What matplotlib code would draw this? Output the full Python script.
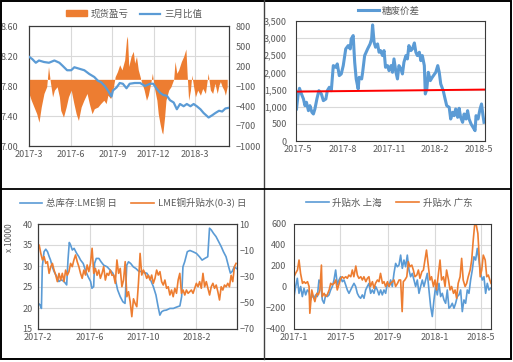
import numpy as np
import pandas as pd
import matplotlib
matplotlib.use('Agg')
import matplotlib.pyplot as plt
import matplotlib.dates as mdates
from matplotlib.lines import Line2D
from matplotlib.patches import Patch, Rectangle

plt.rcParams['font.family'] = ['Noto Sans CJK SC', 'DejaVu Sans']

BLUE = '#5B9BD5'
ORANGE = '#ED7D31'
GREY = '#595959'

# ---- panel 1: 现货盈亏 (right axis) / 三月比值 (left axis), days from 2017-03-01
p1_ratio_days = [0, 7, 15, 22, 33, 44, 56, 67, 74, 84, 93, 100, 111, 122, 133, 144, 152, 159, 167, 174,
                 182, 185, 193, 200, 207, 215, 222, 233, 245, 256, 267, 274, 282, 289, 296, 304, 311, 319,
                 326, 333, 341, 348, 356, 363, 370, 378, 385, 396, 404, 411, 419, 426, 433, 441]
p1_ratio = [8.19, 8.16, 8.11, 8.14, 8.12, 8.11, 8.14, 8.11, 8.07, 8.01, 8.01, 8.05, 8.03, 8.01, 7.96,
            7.92, 7.87, 7.85, 7.80, 7.74, 7.66, 7.74, 7.78, 7.84, 7.83, 7.77, 7.83, 7.84, 7.84, 7.80,
            7.83, 7.83, 7.76, 7.71, 7.68, 7.67, 7.61, 7.58, 7.49, 7.56, 7.53, 7.56, 7.53, 7.56, 7.53,
            7.49, 7.44, 7.38, 7.41, 7.44, 7.47, 7.46, 7.50, 7.51]
p1_pnl_days = [0, 5, 11, 17, 22, 27, 33, 39, 43, 47, 52, 56, 62, 67, 70, 76, 82, 87, 93, 99,
               104, 109, 115, 121, 128, 133, 139, 144, 152, 158, 165, 170, 174, 180, 185, 190, 195, 200, 205, 211,
               215, 217, 220, 225, 230, 233, 237, 241, 248, 254, 259, 263, 269, 272, 276, 282, 285, 289, 293, 295,
               299, 302, 308, 313, 319, 322, 326, 330, 336, 341, 346, 349, 352, 356, 359, 363, 367, 372, 378, 383,
               389, 395, 400, 405, 410, 415, 419, 422, 426, 430, 433, 437]
p1_pnl = [-212, -314, -415, -516, -643, -415, -212, -111, 192, -35, -263, -162, -111, -263, -466, -567, -415, -263, -162, -364,
          -516, -617, -415, -314, -212, -364, -516, -440, -415, -364, -314, -364, -238, -288, -162, 40, 116, 218, 142, 293,
          597, 648, 192, 344, 420, 243, 344, 142, -35, -162, -314, -238, -35, 91, -111, -314, -516, -668, -794, -820,
          -567, -314, -162, -111, 0, 268, 91, 142, 268, 344, 455, 40, -314, -162, 66, -111, -263, -162, -238, -137,
          -212, 91, -162, -212, -61, -212, -86, -35, -111, -162, -238, -111]

# ---- panel 2: 糖废价差, days from 2017-04-28
p2_days = [1, 4, 7, 11, 15, 18, 21, 25, 28, 32, 35, 38, 42, 46, 51, 55, 60, 63, 67, 71,
           75, 80, 83, 87, 91, 95, 100, 105, 109, 111, 115, 118, 121, 125, 127, 132, 134, 138, 144, 149,
           152, 154, 157, 160, 164, 167, 170, 174, 177, 180, 184, 187, 191, 194, 197, 201, 204, 207, 211, 214,
           217, 221, 224, 227, 231, 234, 238, 241, 244, 248, 251, 254, 258, 260, 263, 266, 270, 274, 281, 285,
           288, 291, 296, 299, 303, 308, 311, 315, 318, 321, 325, 328, 331, 335, 338, 342, 345, 348, 352, 356,
           360, 362, 366, 370, 373, 376, 378]
p2_spread = [934, 1323, 1537, 1372, 1226, 1031, 1129, 885, 1031, 837, 788, 934, 1226, 1469, 1372, 1177, 1226, 1469, 1567, 1469,
             2199, 2150, 2248, 1907, 1956, 2199, 2686, 2783, 2686, 2977, 3075, 2296, 1810, 1518, 1858, 1810, 2004, 2491, 2686, 2831,
             2977, 3386, 2880, 2734, 2831, 2588, 2637, 2491, 2637, 2150, 2199, 2053, 2199, 2004, 2394, 2004, 1810, 2199, 2102, 1956,
             2296, 2491, 2394, 2783, 2637, 2686, 2860, 2588, 2491, 2588, 2345, 2491, 2199, 1372, 1518, 2004, 1761, 1858, 2004, 2199,
             2004, 1664, 1469, 1275, 1031, 983, 642, 837, 739, 934, 691, 954, 691, 545, 788, 642, 885, 642, 496, 399,
             302, 739, 642, 934, 1080, 739, 545]
p2_trend = [1440, 1500]

# ---- panel 3: 总库存:LME铜 (x 10000, left) / LME铜升贴水(0-3) (right), days from 2017-02-01
p3_stock_days = [2, 6, 9, 11, 15, 19, 23, 27, 30, 34, 38, 42, 46, 49, 55, 61, 67, 70, 73, 76,
                 80, 84, 90, 95, 99, 105, 110, 116, 122, 125, 129, 131, 135, 141, 146, 152, 160, 167, 173, 179,
                 184, 190, 196, 201, 205, 209, 214, 220, 226, 233, 239, 245, 251, 258, 266, 272, 277, 281, 285, 290,
                 296, 304, 312, 319, 327, 331, 334, 338, 344, 350, 357, 365, 372, 378, 384, 391, 395, 399, 404, 410,
                 416, 422, 427, 433, 439, 443, 447, 452, 457]
p3_stock = [21.1, 20.7, 19.9, 29.8, 33.4, 34.0, 33.4, 32.2, 31.4, 29.8, 28.7, 27.9, 27.1, 26.3, 26.7, 26.3, 25.5, 31.4, 35.6, 35.0,
            33.8, 34.2, 33.0, 32.2, 31.4, 30.6, 29.0, 27.5, 26.3, 24.7, 25.1, 30.6, 31.8, 31.8, 31.0, 30.2, 29.8, 29.0, 28.3, 26.7,
            24.3, 22.7, 21.5, 21.1, 30.2, 31.0, 30.6, 29.8, 29.4, 28.7, 28.7, 28.4, 28.3, 27.1, 25.1, 23.1, 20.3, 18.3, 19.1, 19.4,
            19.5, 19.9, 19.9, 20.2, 20.5, 22.7, 29.8, 31.0, 33.4, 33.7, 33.4, 33.0, 32.2, 31.4, 31.8, 32.2, 39.0, 38.6, 37.8, 37.0,
            35.8, 34.6, 33.4, 32.2, 29.8, 28.3, 28.7, 29.8, 29.4]
p3_spread = [-9.8, -6.0, -12.4, -17.4, -14.9, -20.0, -18.7, -27.6, -22.5, -20.0,
             -25.1, -28.9, -33.9, -27.6, -32.7, -27.6, -33.9, -25.1, -29.1, -26.3,
             -20.0, -22.5, -17.4, -13.6, -18.7, -22.5, -27.6, -31.4, -25.1, -28.9,
             -21.2, -26.3, -20.0, -8.5, -27.6, -23.8, -29.1, -25.1, -31.4, -27.6,
             -22.5, -32.7, -27.6, -29.1, -25.1, -29.1, -28.9, -35.2, -17.4, -27.6,
             -23.8, -37.8, -32.7, -18.7, -45.4, -41.6, -49.2, -60.6, -47.0, -50.5,
             -53.0, -35.2, -12.4, -28.9, -25.1, -27.6, -31.4, -29.1, -32.7, -28.9,
             -35.2, -31.4, -25.1, -28.9, -26.3, -33.9, -36.5, -32.7, -39.0, -37.8,
             -44.1, -40.3, -45.4, -39.0, -42.8, -32.7, -27.6, -42.8, -40.3, -44.1,
             -40.3, -42.8, -41.6, -40.3, -42.8, -39.0, -35.2, -37.8, -33.9, -39.0,
             -27.6, -37.8, -33.9, -39.0, -44.1, -37.8, -35.2, -39.0, -36.5, -41.6,
             -47.9, -37.8, -40.3, -36.5, -37.8, -35.2, -37.8, -29.1, -33.9, -22.5, -20.0]

# ---- panel 4: 升贴水 上海 / 广东, days from 2017-01-01
p4_sh = [-96, 0, 78, -65, 0, -96, -17, -80, -33, -49,
         -128, -80, -112, -80, -96, 62, 30, -128, -160, -80,
         -96, -80, -33, 0, 62, 157, 16, 62, 93, 46,
         62, 16, -33, -65, -33, 0, 30, 0, -65, -96,
         -112, -80, -112, -33, 0, 30, -65, -33, -65, 0,
         -33, -80, -33, -80, -33, -65, 30, 0, 62, 0,
         125, 220, 188, 204, 299, 173, 252, 188, 299, 157,
         93, 125, 62, 0, 62, -65, 0, 62, 0, 62,
         125, -33, -191, -286, -128, 0, -80, 30, -96, -65,
         -128, -160, -33, -207, -191, -160, -207, -160, -96, -80,
         -33, -239, -128, -160, -33, -65, 62, 157, 283, 252,
         363, 252, 125, 62, 93, -65, 30, -33, -17]
p4_gd_days = [0, 4, 9, 13, 17, 22, 26, 30, 35, 39, 41, 46, 50, 54, 59, 63, 67, 71, 73, 78,
              82, 86, 91, 95, 99, 104, 108, 112, 117, 121, 125, 129, 134, 138, 142, 147, 151, 155, 160, 164,
              168, 173, 177, 181, 186, 190, 194, 198, 203, 207, 211, 216, 220, 224, 229, 233, 237, 242, 246, 250,
              255, 259, 263, 268, 272, 276, 280, 283, 287, 292, 296, 300, 305, 309, 313, 318, 322, 326, 331, 335,
              339, 343, 348, 352, 356, 361, 365, 369, 374, 378, 382, 387, 391, 395, 400, 404, 408, 413, 417, 421,
              425, 430, 434, 438, 443, 447, 451, 456, 460, 464, 468, 472, 476, 479, 482, 486, 490, 495, 499, 503,
              507, 510]
p4_gd = [93, 125, 157, 252, 125, 30, 46, 30, 46, 0, -255, -33, -96, -144, -65, -80, -33, 204, -96, -65,
         -96, -80, -33, 30, 16, 30, 62, -33, 30, 78, 93, 78, 93, 78, 109, 93, 157, 93, 195, 109,
         78, 93, 62, 93, 46, 78, 93, 0, 46, -17, 30, 62, 46, 125, 30, 46, 0, 46, 0, 30,
         46, 62, 0, 30, 62, 62, -239, 46, 62, 93, 236, 188, 204, 157, 93, 109, 157, 78, 141, 157,
         252, 347, 188, 62, 93, 0, 62, -33, 125, 252, 62, 93, 0, 157, 62, -33, 0, -65, -33, -112,
         30, 93, 268, 62, 0, 30, 93, 157, 252, 442, 600, 584, 505, 315, 93, 157, 299, 252, 93, 109,
         62, 30]


def on_days(base, days):
    return pd.to_datetime(base) + pd.to_timedelta(days, unit='D')


def month_label(v, pos):
    d = mdates.num2date(v)
    return f'{d.year}-{d.month}'


def style(ax, gridx=True):
    ax.tick_params(length=0, labelsize=6.5, colors=GREY, pad=3)
    for s in ax.spines.values():
        s.set_color('#3a3a3a')
        s.set_linewidth(0.8)
    ax.grid(axis='y', color='#D9D9D9', lw=0.8)
    if gridx:
        ax.grid(axis='x', color='#D9D9D9', lw=0.8)
    ax.set_axisbelow(True)


def set_months(ax, start, end, ticks):
    ax.set_xlim(pd.Timestamp(start), pd.Timestamp(end))
    ax.set_xticks([mdates.date2num(pd.Timestamp(t)) for t in ticks])
    ax.xaxis.set_major_formatter(plt.FuncFormatter(month_label))


W, H = 513, 362
fig = plt.figure(figsize=(W / 100, H / 100), dpi=100)


def rect(x0, y0, x1, y1):
    return [x0 / W, 1 - y1 / H, (x1 - x0) / W, (y1 - y0) / H]


# ---------------- panel 1
ax1 = fig.add_axes(rect(29, 26, 229, 146))
style(ax1)
ax1.set_ylim(7.0, 8.6)
ax1.set_yticks(np.arange(7.0, 8.61, 0.4))
ax1.yaxis.set_major_formatter(plt.FuncFormatter(lambda v, p: f'{v:.2f}'))
ax1.tick_params(axis='y', pad=8)
set_months(ax1, '2017-03-01', '2018-05-16',
           ['2017-03-01', '2017-06-01', '2017-09-01', '2017-12-01', '2018-03-01'])

ax1r = ax1.twinx()
style(ax1r, gridx=False)
ax1r.grid(False)
ax1r.set_ylim(-1000, 800)
ax1r.set_yticks(np.arange(-1000, 801, 300))
ax1r.tick_params(axis='y', pad=5)
x_pnl = on_days('2017-03-01', p1_pnl_days)
ax1r.fill_between(x_pnl, 0, p1_pnl, color=ORANGE, lw=0)

ax1b = ax1.twinx()
ax1b.set_ylim(7.0, 8.6)
ax1b.axis('off')
ax1b.plot(on_days('2017-03-01', p1_ratio_days), p1_ratio, color=BLUE, lw=1.6)

fig.legend([Patch(color=ORANGE), Line2D([], [], color=BLUE, lw=1.6)], ['现货盈亏', '三月比值'],
           loc='center', bbox_to_anchor=(134 / W, 1 - 14 / H), ncol=2, frameon=False,
           fontsize=6.8, labelcolor=GREY, handlelength=2.2, handleheight=0.6,
           columnspacing=1.2, handletextpad=0.4)

# ---------------- panel 2
ax2 = fig.add_axes(rect(296, 21, 485, 141))
style(ax2, gridx=False)
ax2.set_ylim(0, 3500)
ax2.set_yticks(np.arange(0, 3501, 500))
ax2.yaxis.set_major_formatter(plt.FuncFormatter(lambda v, p: f'{v:,.0f}'))
ax2.tick_params(axis='y', pad=6.5)
set_months(ax2, '2017-04-28', '2018-05-13',
           ['2017-05-01', '2017-08-01', '2017-11-01', '2018-02-01', '2018-05-01'])
ax2.plot(on_days('2017-04-28', p2_days), p2_spread, color=BLUE, lw=2.2)
ax2.plot([pd.Timestamp('2017-04-28'), pd.Timestamp('2018-05-13')], p2_trend, color='#FF0000', lw=1.4)
fig.legend([Line2D([], [], color=BLUE, lw=2.2)], ['糖废价差'],
           loc='center', bbox_to_anchor=(389 / W, 1 - 11 / H), frameon=False,
           fontsize=6.8, labelcolor=GREY, handlelength=2.2, handletextpad=0.4)

# ---------------- panel 3
ax3 = fig.add_axes(rect(37.5, 224, 236.5, 329))
style(ax3)
ax3.set_ylim(15, 40)
ax3.set_yticks(np.arange(15, 41, 5))
ax3.tick_params(axis='y', pad=3.5)
set_months(ax3, '2017-02-01', '2018-05-04',
           ['2017-02-01', '2017-06-01', '2017-10-01', '2018-02-01'])
ax3.plot(on_days('2017-02-01', p3_stock_days), p3_stock, color=BLUE, lw=1.2)
ax3r = ax3.twinx()
style(ax3r, gridx=False)
ax3r.grid(False)
ax3r.set_ylim(-70, 10)
ax3r.set_yticks(np.arange(-70, 11, 20))
ax3r.tick_params(axis='y', pad=2)
ax3r.plot(pd.date_range('2017-02-01', '2018-05-03', periods=len(p3_spread)), p3_spread,
          color=ORANGE, lw=1.2)
fig.text(9 / W, 1 - 238 / H, 'x 10000', rotation=90, ha='center', va='center',
         fontsize=6, color=GREY)
fig.legend([Line2D([], [], color=BLUE, lw=1.2), Line2D([], [], color=ORANGE, lw=1.2)],
           ['总库存:LME铜 日', 'LME铜升贴水(0-3) 日'],
           loc='center', bbox_to_anchor=(133 / W, 1 - 203 / H), ncol=2, frameon=False,
           fontsize=6.8, labelcolor=GREY, handlelength=2.4, columnspacing=1.5, handletextpad=0.4)

# ---------------- panel 4
ax4 = fig.add_axes(rect(294, 223.5, 491, 328.5))
style(ax4)
ax4.set_ylim(-400, 600)
ax4.set_yticks(np.arange(-400, 601, 200))
ax4.tick_params(axis='y', pad=5.5)
set_months(ax4, '2017-01-01', '2018-05-26',
           ['2017-01-01', '2017-05-01', '2017-09-01', '2018-01-01', '2018-05-01'])
ax4.plot(pd.date_range('2017-01-01', '2018-05-25', periods=len(p4_sh)), p4_sh, color=BLUE, lw=1.2)
ax4.plot(on_days('2017-01-01', p4_gd_days), p4_gd, color=ORANGE, lw=1.2)
fig.legend([Line2D([], [], color=BLUE, lw=1.2), Line2D([], [], color=ORANGE, lw=1.2)],
           ['升贴水 上海', '升贴水 广东'],
           loc='center', bbox_to_anchor=(389 / W, 1 - 203 / H), ncol=2, frameon=False,
           fontsize=6.8, labelcolor=GREY, handlelength=2.4, columnspacing=1.5, handletextpad=0.4)

# ---------------- frame and separators
fig.add_artist(Rectangle((0.8 / W, 1 - 359 / H), 510 / W, 358.5 / H, transform=fig.transFigure,
                         fill=False, ec='black', lw=1.4))
fig.add_artist(Line2D([264 / W, 264 / W], [1 - 359 / H, 1], transform=fig.transFigure,
                      color='#404040', lw=1.0))
fig.add_artist(Line2D([0, 511 / W], [1 - 189 / H, 1 - 189 / H], transform=fig.transFigure,
                      color='black', lw=1.3))

fig.savefig('out.png', dpi=100)
